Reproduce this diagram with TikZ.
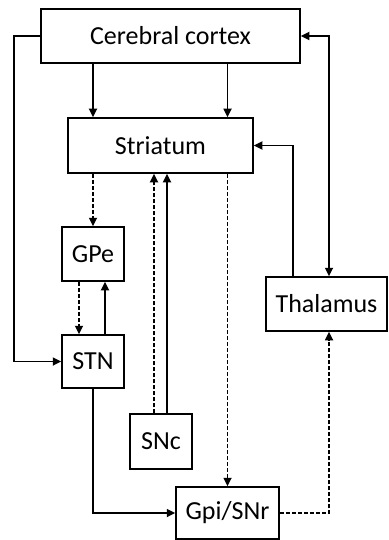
\documentclass[tikz,border=0pt]{standalone}
\usepackage{fontspec}
\setmainfont{Carlito}
\usetikzlibrary{arrows.meta}
\begin{document}
\begin{tikzpicture}[x=1pt,y=-1pt,
  box/.style={draw, line width=1.5pt, inner sep=0pt, font=\fontsize{26}{30}\selectfont},
  conn/.style={line width=1.7pt, -{Triangle[length=8.5pt,width=8pt]}},
  dconn/.style={conn, dash pattern=on 4pt off 2pt},
  every node/.style={text=black}]
\useasboundingbox (0,0) rectangle (388,540);
\node[box, minimum width=259pt, minimum height=54pt] (cortex) at (170.5,36) {Cerebral cortex};
\node[box, minimum width=185pt, minimum height=55pt] (str) at (160.5,145.5) {Striatum};
\node[box, minimum width=62pt, minimum height=54pt] (gpe) at (93,254) {GPe};
\node[box, minimum width=62pt, minimum height=53pt] (stn) at (93,361.5) {STN};
\node[box, minimum width=62pt, minimum height=55pt] (snc) at (161,441.5) {SNc};
\node[box, minimum width=103pt, minimum height=52pt] (gpi) at (227.5,513) {Gpi/SNr};
\node[box, minimum width=121pt, minimum height=54pt] (thal) at (326.5,304) {Thalamus};
\coordinate (leftbend) at (14,36);
\coordinate (sncA) at ([xshift=-7pt]snc.north);
\coordinate (sncB) at ([xshift=6pt]snc.north);
% cortex to striatum
\draw[conn] (cortex.south -| gpe) -- (str.north -| gpe);
\draw[conn] (cortex.south -| gpi) -- (str.north -| gpi);
% cortex to STN
\draw[conn] (cortex.west) -- (leftbend) |- (stn.west);
% cortex <-> thalamus
\draw[conn, {Triangle[length=8.5pt,width=8pt]}-{Triangle[length=8.5pt,width=8pt]}] (cortex.east) -| ([xshift=2.5pt]thal.north);
% thalamus to striatum
\draw[conn] ([xshift=-33.5pt]thal.north) |- (str.east);
% striatum to GPe
\draw[dconn] (str.south -| gpe) -- (gpe.north);
% GPe <-> STN
\draw[dconn] ([xshift=-14pt]gpe.south) -- ([xshift=-14pt]stn.north);
\draw[conn] ([xshift=12pt]stn.north) -- ([xshift=12pt]gpe.south);
% SNc to striatum
\draw[dconn] (sncA) -- (str.south -| sncA);
\draw[conn] (sncB) -- (str.south -| sncB);
% striatum to Gpi
\draw[dconn] (str.south -| gpi) -- (gpi.north);
% STN to Gpi
\draw[conn] (stn.south) |- (gpi.west);
% Gpi to thalamus
\draw[dconn] (gpi.east) -| ([xshift=2.5pt]thal.south);
\end{tikzpicture}
\end{document}
